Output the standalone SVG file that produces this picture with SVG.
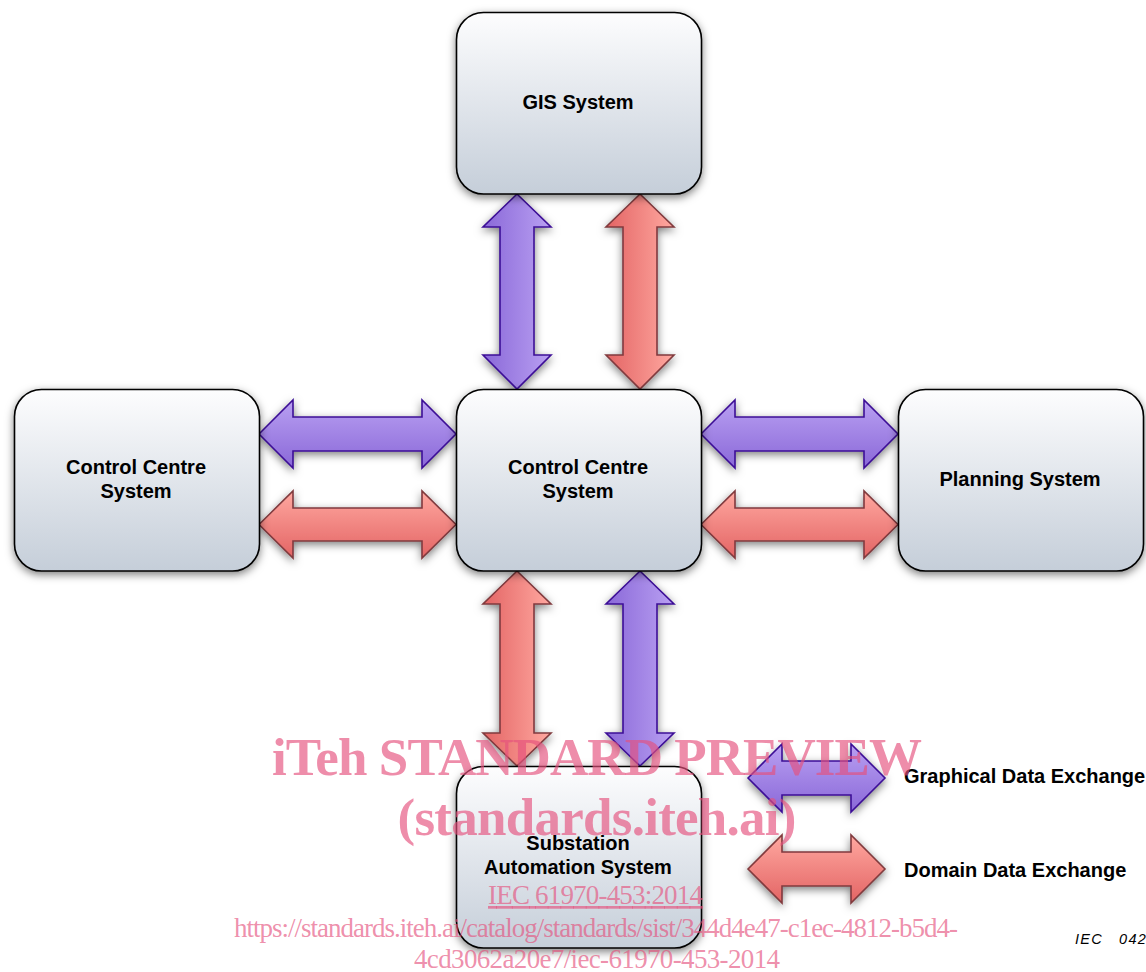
<svg xmlns="http://www.w3.org/2000/svg" width="1146" height="972" viewBox="0 0 1146 972">
<style>
.box{fill:url(#boxG);stroke:#000;stroke-width:1.6;filter:url(#sh)}
.lbl{font-family:"Liberation Sans",Arial,sans-serif;font-weight:700;font-size:20px;fill:#000;text-anchor:middle}
.leg{text-anchor:start}
.arr{stroke-width:1.6;stroke-linejoin:miter;filter:url(#sh)}
.pv{fill:url(#pV);stroke:#3c0f96}.rv{fill:url(#rV);stroke:#803a3e}
.ph{fill:url(#pH);stroke:#3c0f96}.rh{fill:url(#rH);stroke:#803a3e}
.wm{font-family:"Liberation Serif","Times New Roman",serif;fill:#e5507c;fill-opacity:.65;text-anchor:middle}
.wb{font-weight:700;font-size:53px}
.ws{font-size:27px}
</style>
<defs>
<linearGradient id="boxG" x1="0" y1="0" x2="0" y2="1"><stop offset="0" stop-color="#fdfdfe"/><stop offset="1" stop-color="#c5ced9"/></linearGradient>
<linearGradient id="pV" x1="0" y1="0" x2="1" y2="0"><stop offset="0" stop-color="#8a68d8"/><stop offset="1" stop-color="#b9a0f2"/></linearGradient>
<linearGradient id="rV" x1="0" y1="0" x2="1" y2="0"><stop offset="0" stop-color="#e36464"/><stop offset="1" stop-color="#ffa8a0"/></linearGradient>
<linearGradient id="pH" x1="0" y1="0" x2="0" y2="1"><stop offset="0" stop-color="#b9a0f2"/><stop offset="1" stop-color="#8a68d8"/></linearGradient>
<linearGradient id="rH" x1="0" y1="0" x2="0" y2="1"><stop offset="0" stop-color="#ffa8a0"/><stop offset="1" stop-color="#e36464"/></linearGradient>
<filter id="sh" x="-20%" y="-20%" width="140%" height="140%"><feDropShadow dx="0" dy="3" stdDeviation="4" flood-color="#000" flood-opacity=".5"/></filter>
</defs>
<g id="connectors">
<path class="arr pv" d="M517 194L551 227H534V355H551L517 389L483 355H500V227H483Z"/>
<path class="arr rv" d="M640 194L674 227H657V355H674L640 389L606 355H623V227H606Z"/>
<path class="arr rv" d="M517 571L551 604H534V733H551L517 766L483 733H500V604H483Z"/>
<path class="arr pv" d="M640 571L674 604H657V733H674L640 766L606 733H623V604H606Z"/>
<path class="arr ph" d="M259 434L293 400V417H422V400L456 434L422 468V451H293V468Z"/>
<path class="arr rh" d="M259 524.500L293 491V508H422V491L456 524.500L422 558V541H293V558Z"/>
<path class="arr ph" d="M701 434L735 400V417H864V400L898 434L864 468V451H735V468Z"/>
<path class="arr rh" d="M701 524.500L735 491V508H864V491L898 524.500L864 558V541H735V558Z"/>
<path class="arr ph" d="M748 778L782 744V761H851V744L885 778L851 812V795H782V812Z"/>
<path class="arr rh" d="M748 869L782 835V852H851V835L885 869L851 903V886H782V903Z"/>
</g>
<g id="node-gis"><rect class="box" x="456.500" y="12.500" width="245" height="181.500" rx="27"/><text class="lbl" x="578" y="108.500">GIS System</text></g>
<g id="node-centre"><rect class="box" x="456.500" y="389.500" width="245" height="181.500" rx="27"/><text class="lbl" x="578" y="473.500">Control Centre</text><text class="lbl" x="578" y="497.500">System</text></g>
<g id="node-left"><rect class="box" x="14.500" y="389.500" width="245" height="181.500" rx="27"/><text class="lbl" x="136" y="473.500">Control Centre</text><text class="lbl" x="136" y="497.500">System</text></g>
<g id="node-planning"><rect class="box" x="898.500" y="389.500" width="245" height="181.500" rx="27"/><text class="lbl" x="1020" y="485.500">Planning System</text></g>
<g id="node-substation"><rect class="box" x="456.500" y="766.500" width="245" height="181.500" rx="27"/><text class="lbl" x="578" y="850">Substation</text><text class="lbl" x="578" y="874">Automation System</text></g>
<g id="legend"><text class="lbl leg" x="904" y="783">Graphical Data Exchange</text><text class="lbl leg" x="904" y="877">Domain Data Exchange</text>
<text x="1075" y="944" font-family="Liberation Sans,Arial,sans-serif" font-style="italic" font-size="14.500px" letter-spacing="1.300" xml:space="preserve">IEC   042</text></g>
<g id="watermark">
<text class="wm wb" x="597" y="775" textLength="650" lengthAdjust="spacing">iTeh STANDARD PREVIEW</text>
<text class="wm wb" x="597" y="835" textLength="399" lengthAdjust="spacing">(standards.iteh.ai)</text>
<text class="wm ws" x="595.500" y="904" textLength="215" lengthAdjust="spacing" text-decoration="underline">IEC 61970-453:2014</text>
<text class="wm ws" x="596" y="937" textLength="724" lengthAdjust="spacing">https://standards.iteh.ai/catalog/standards/sist/344d4e47-c1ec-4812-b5d4-</text>
<text class="wm ws" x="597" y="968" textLength="366" lengthAdjust="spacing">4cd3062a20e7/iec-61970-453-2014</text>
</g>
</svg>
